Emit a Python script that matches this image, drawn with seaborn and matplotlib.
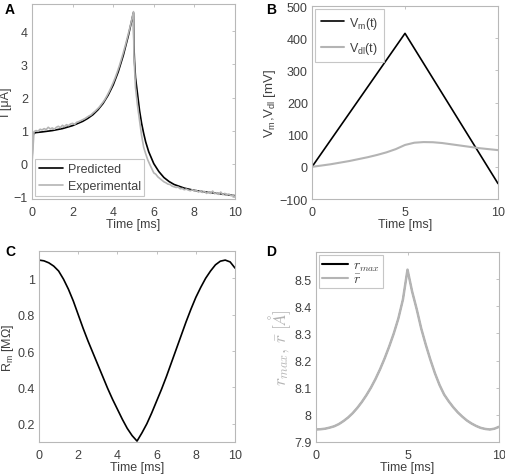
import matplotlib
matplotlib.use('Agg')
import matplotlib.pyplot as plt
from matplotlib.font_manager import FontProperties
import seaborn as sns

# Panel A: current, predicted vs experimental
t_pred = [0.0, 0.02, 0.05, 0.1, 0.2, 0.5, 1.0, 1.5, 2.0, 2.5, 2.75, 3.0, 3.25, 3.5,
          3.75, 4.0, 4.25, 4.5, 4.75, 5.0, 5.02, 5.05, 5.1, 5.2, 5.3, 5.4, 5.5,
          5.6, 5.75, 6.0, 6.25, 6.5, 6.75, 7.0, 7.5, 8.0, 8.5, 9.0, 9.5, 10.0]
i_pred = [0.0, 0.5, 0.85, 0.92, 0.94, 0.96, 1.0, 1.06, 1.15, 1.28, 1.37, 1.48, 1.63, 1.82,
          2.07, 2.38, 2.78, 3.28, 3.88, 4.57, 3.6, 3.1, 2.6, 2.1, 1.6, 1.22, 0.92,
          0.66, 0.36, 0.0, -0.24, -0.42, -0.54, -0.63, -0.74, -0.81, -0.855, -0.89, -0.93, -0.97]

t_exp = [0.0, 0.1, 0.2, 0.3, 0.4, 0.5, 0.6, 0.7, 0.8, 0.9, 1.0, 1.1, 1.2, 1.3, 1.4,
         1.5, 1.6, 1.7, 1.8, 1.9, 2.0, 2.1, 2.2, 2.3, 2.4, 2.5, 2.6, 2.7, 2.8, 2.9,
         3.0, 3.1, 3.2, 3.3, 3.4, 3.5, 3.6, 3.7, 3.8, 3.9, 4.0, 4.1, 4.2, 4.3, 4.4,
         4.5, 4.6, 4.7, 4.8, 4.9, 5.0, 5.02, 5.1, 5.2, 5.3, 5.4, 5.5, 5.6, 5.7, 5.8,
         5.9, 6.0, 6.1, 6.2, 6.3, 6.4, 6.5, 6.6, 6.7, 6.8, 6.9, 7.0, 7.1, 7.2, 7.3,
         7.4, 7.5, 7.6, 7.7, 7.8, 7.9, 8.0, 8.1, 8.2, 8.3, 8.4, 8.5, 8.6, 8.7, 8.8,
         8.9, 9.0, 9.1, 9.2, 9.3, 9.4, 9.5, 9.6, 9.7, 9.8, 9.9, 10.0]
i_exp = [0.0, 0.97, 1.0, 0.98, 1.04, 1.02, 1.06, 1.03, 1.1, 1.05, 1.08, 1.04, 1.1, 1.13, 1.09,
         1.16, 1.12, 1.18, 1.15, 1.2, 1.22, 1.19, 1.25, 1.27, 1.3, 1.33, 1.36, 1.4, 1.44, 1.47,
         1.53, 1.58, 1.64, 1.7, 1.78, 1.86, 1.95, 2.06, 2.18, 2.31, 2.45, 2.6, 2.77, 2.95, 3.15,
         3.36, 3.58, 3.82, 4.06, 4.32, 4.6, 3.3, 2.3, 1.75, 1.3, 0.85, 0.5, 0.3, 0.12, -0.02,
         -0.15, -0.28, -0.32, -0.4, -0.45, -0.5, -0.55, -0.58, -0.62, -0.63, -0.68, -0.7, -0.72, -0.71, -0.76,
         -0.75, -0.79, -0.77, -0.8, -0.82, -0.79, -0.83, -0.81, -0.86, -0.82, -0.87, -0.84, -0.9, -0.85, -0.9,
         -0.83, -0.91, -0.88, -0.93, -0.86, -0.94, -0.9, -0.95, -0.92, -0.97, -0.95, -1.0]

# Panel B: membrane and double-layer voltages
t_v = [0.0, 5.0, 10.0]
v_m = [0.0, 415.0, -52.0]
t_dl = [0.0, 0.5, 1.0, 1.5, 2.0, 2.5, 3.0, 3.5, 4.0, 4.5, 5.0, 5.5, 6.0, 6.5, 7.0,
        7.5, 8.0, 8.5, 9.0, 9.5, 10.0]
v_dl = [0.0, 4.0, 8.0, 13.0, 18.0, 24.0, 30.0, 37.0, 45.0, 55.0, 68.0, 75.0, 77.0, 76.5, 74.0,
        70.0, 66.0, 62.0, 58.0, 55.0, 52.0]

# Panel C: membrane resistance
t_r = [0.0, 0.25, 0.5, 0.75, 1.0, 1.25, 1.5, 1.75, 2.0, 2.25, 2.5, 2.75, 3.0, 3.25,
       3.5, 3.75, 4.0, 4.25, 4.5, 4.75, 5.0, 5.25, 5.5, 5.75, 6.0, 6.25, 6.5, 6.75,
       7.0, 7.25, 7.5, 7.75, 8.0, 8.25, 8.5, 8.75, 9.0, 9.25, 9.5, 9.75, 10.0]
r_m = [1.1, 1.096, 1.085, 1.067, 1.04, 0.995, 0.94, 0.875, 0.8, 0.725, 0.655, 0.59, 0.525, 0.46,
       0.395, 0.335, 0.28, 0.225, 0.175, 0.135, 0.105, 0.15, 0.2, 0.26, 0.325, 0.39, 0.46, 0.535,
       0.61, 0.685, 0.76, 0.83, 0.895, 0.95, 1.0, 1.04, 1.074, 1.094, 1.1, 1.09, 1.056]

# Panel D: pore radius
t_p = [0.0, 0.25, 0.5, 0.75, 1.0, 1.25, 1.5, 1.75, 2.0, 2.25, 2.5, 2.75, 3.0, 3.25,
       3.5, 3.75, 4.0, 4.25, 4.5, 4.75, 5.0, 5.25, 5.5, 5.75, 6.0, 6.25, 6.5, 6.75,
       7.0, 7.25, 7.5, 7.75, 8.0, 8.25, 8.5, 8.75, 9.0, 9.25, 9.5, 9.75, 10.0]
r_max = [7.946, 7.947, 7.949, 7.953, 7.958, 7.966, 7.977, 7.99, 8.006, 8.025, 8.047, 8.072, 8.1, 8.132,
         8.168, 8.208, 8.252, 8.3, 8.355, 8.425, 8.535, 8.455, 8.39, 8.318, 8.258, 8.203, 8.153, 8.11,
         8.075, 8.05, 8.028, 8.009, 7.993, 7.979, 7.968, 7.959, 7.952, 7.948, 7.946, 7.949, 7.956]
r_mean = [7.946, 7.947, 7.949, 7.953, 7.958, 7.966, 7.977, 7.99, 8.006, 8.025, 8.047, 8.072, 8.1, 8.132,
          8.168, 8.208, 8.252, 8.3, 8.355, 8.425, 8.535, 8.455, 8.39, 8.318, 8.258, 8.203, 8.153, 8.11,
          8.075, 8.05, 8.028, 8.009, 7.993, 7.979, 7.968, 7.959, 7.952, 7.948, 7.946, 7.949, 7.956]

sns.set_style('white')
plt.rcParams['font.family'] = ['Liberation Sans', 'DejaVu Sans']
plt.rcParams['mathtext.fontset'] = 'custom'
plt.rcParams['mathtext.rm'] = 'Liberation Sans'
plt.rcParams['mathtext.it'] = 'Liberation Sans:italic'
plt.rcParams['mathtext.bf'] = 'Liberation Sans:bold'

FS = 9
TXT = '#404040'
EDGE = '#b8b8b8'
GRAY = '#b4b4b4'

fig = plt.figure(figsize=(5.06, 4.77), dpi=100)
ax_a = fig.add_axes([0.0632, 0.5807, 0.4012, 0.4088])
ax_b = fig.add_axes([0.6166, 0.5807, 0.3676, 0.4046])
ax_c = fig.add_axes([0.0771, 0.0713, 0.3874, 0.4004])
ax_d = fig.add_axes([0.6245, 0.0713, 0.3617, 0.3983])


def style(ax):
    for sp in ax.spines.values():
        sp.set_color(EDGE)
        sp.set_linewidth(0.8)
    ax.tick_params(direction='in', top=True, right=True, length=2.5, width=0.6,
                   color=EDGE, labelcolor=TXT, labelsize=FS)
    ax.tick_params(axis='x', pad=5)
    ax.tick_params(axis='y', pad=3)
    ax.set_xlabel('Time [ms]', fontsize=FS, color=TXT, labelpad=0)


def legend(ax, loc, prop=None, spacing=0.4, pad=0.3):
    leg = ax.legend(loc=loc, fontsize=FS, prop=prop, frameon=True, fancybox=False,
                    borderaxespad=0.25, handlelength=1.9, handletextpad=0.4,
                    borderpad=pad, labelspacing=spacing)
    leg.get_frame().set_edgecolor(EDGE)
    leg.get_frame().set_linewidth(0.8)
    for txt in leg.get_texts():
        txt.set_color(TXT)
    return leg


# A
sns.lineplot(x=t_pred, y=i_pred, ax=ax_a, color='black', linewidth=1.2, label='Predicted')
sns.lineplot(x=t_exp, y=i_exp, ax=ax_a, color=GRAY, linewidth=1.2, label='Experimental')
ax_a.set_xlim(0, 10)
ax_a.set_ylim(-1.07, 4.83)
ax_a.set_xticks([0, 2, 4, 6, 8, 10])
ax_a.set_yticks([-1, 0, 1, 2, 3, 4])
ax_a.set_ylabel('I [μA]', fontsize=FS, color=TXT, labelpad=1)
style(ax_a)
legend(ax_a, 'lower left')

# B
sns.lineplot(x=t_v, y=v_m, ax=ax_b, color='black', linewidth=1.2, label=r'V$_\mathrm{m}$(t)')
sns.lineplot(x=t_dl, y=v_dl, ax=ax_b, color=GRAY, linewidth=1.5, label=r'V$_\mathrm{dl}$(t)')
ax_b.set_xlim(0, 10)
ax_b.set_ylim(-100, 500)
ax_b.set_xticks([0, 5, 10])
ax_b.set_yticks([-100, 0, 100, 200, 300, 400, 500])
ax_b.set_ylabel(r'V$_\mathrm{m}$,V$_\mathrm{dl}$ [mV]', fontsize=FS + 0.5, color=TXT, labelpad=1)
style(ax_b)
legend(ax_b, 'upper left', spacing=0.75, pad=0.45)

# C
sns.lineplot(x=t_r, y=r_m, ax=ax_c, color='black', linewidth=1.2)
ax_c.set_xlim(0, 10)
ax_c.set_ylim(0.1, 1.15)
ax_c.set_xticks([0, 2, 4, 6, 8, 10])
ax_c.set_yticks([0.2, 0.4, 0.6, 0.8, 1.0])
ax_c.set_yticklabels(['0.2', '0.4', '0.6', '0.8', '1'])
ax_c.set_ylabel(r'R$_\mathrm{m}$ [MΩ]', fontsize=FS, color=TXT, labelpad=1)
style(ax_c)

# D
sns.lineplot(x=t_p, y=r_max, ax=ax_d, color='black', linewidth=0.9, label=r'$r_{max}$')
sns.lineplot(x=t_p, y=r_mean, ax=ax_d, color=GRAY, linewidth=1.8, label=r'$\bar{r}$')
ax_d.set_xlim(0, 10)
ax_d.set_ylim(7.9, 8.6)
ax_d.set_xticks([0, 5, 10])
ax_d.set_yticks([7.9, 8.0, 8.1, 8.2, 8.3, 8.4, 8.5])
ax_d.set_yticklabels(['7.9', '8', '8.1', '8.2', '8.3', '8.4', '8.5'])
ax_d.set_ylabel(r'$r_{max},\,\bar{r}\ [\AA]$', fontsize=12.5, color=GRAY,
                labelpad=1, math_fontfamily='cm')
style(ax_d)
leg_d = legend(ax_d, 'upper left', prop=FontProperties(size=FS + 1, math_fontfamily='cm'),
               spacing=-0.05, pad=0.15)
for line in leg_d.get_lines():
    line.set_linewidth(1.5)

for lab, x, y in [('A', 0.01, 0.993), ('B', 0.525, 0.993), ('C', 0.01, 0.487), ('D', 0.525, 0.487)]:
    fig.text(x, y, lab, fontsize=10, fontweight='bold', color='black', va='top', ha='left')

fig.savefig('out.png', dpi=100)
